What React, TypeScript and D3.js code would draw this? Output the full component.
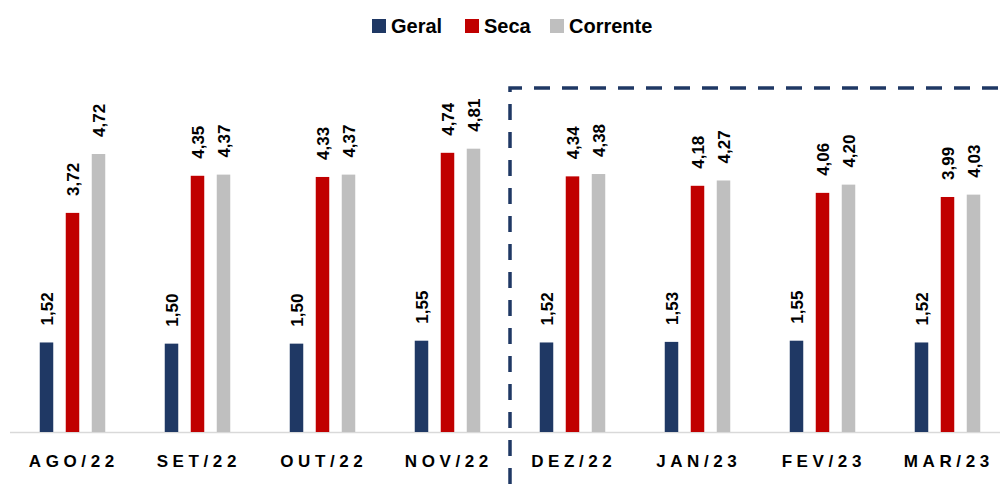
import React from "react";
import * as d3 from "d3";

const months = ["AGO/22", "SET/22", "OUT/22", "NOV/22", "DEZ/22", "JAN/23", "FEV/23", "MAR/23"];
const series = ["Geral", "Seca", "Corrente"];
const geral = [1.52, 1.5, 1.5, 1.55, 1.52, 1.53, 1.55, 1.52];
const seca = [3.72, 4.35, 4.33, 4.74, 4.34, 4.18, 4.06, 3.99];
const corrente = [4.72, 4.37, 4.37, 4.81, 4.38, 4.27, 4.2, 4.03];
const colors = ["#1f3864", "#c00000", "#bfbfbf"];

const W = 1000;
const H = 484;
const baseY = 432;
const font = "'Liberation Sans', Arial, sans-serif";

const App = () => {
  const values = [geral, seca, corrente];

  const xscale = d3.scaleBand().domain(months).range([10, 1010]);
  const inner = d3.scalePoint().domain(series).range([36.5, 88.5]);
  const yscale = d3.scaleLinear().domain([0, 5]).range([baseY, baseY - 5 * 58.9]);
  const barW = 13.5;

  const fmt = (v: number) => d3.format(".2f")(v).replace(".", ",");

  // legend placement
  const legend = [
    { sq: 372, tx: 391 },
    { sq: 465, tx: 484 },
    { sq: 550, tx: 569 },
  ];

  const sepX = xscale("DEZ/22")!;
  const spacing = 4.6;

  return (
    <svg
      width={W}
      height={H}
      viewBox={`0 0 ${W} ${H}`}
      style={{ position: "absolute", left: 0, top: 0, background: "#fff" }}
    >
      {/* legend */}
      {series.map((s, i) => (
        <g key={s}>
          <rect x={legend[i].sq} y={19} width={14} height={14} fill={colors[i]} />
          <text x={legend[i].tx} y={33} fontFamily={font} fontWeight="bold" fontSize={20} fill="#000">
            {s}
          </text>
        </g>
      ))}

      {/* axis line */}
      <line x1={10} x2={W} y1={baseY + 0.5} y2={baseY + 0.5} stroke="#d9d9d9" strokeWidth={1.5} />

      {/* bars */}
      {months.map((m, mi) => (
        <g key={m}>
          {series.map((s, si) => {
            const v = values[si][mi];
            const cx = xscale(m)! + inner(s)!;
            const top = yscale(v);
            return (
              <g key={s}>
                <rect x={cx - barW / 2} y={top} width={barW} height={baseY - top} fill={colors[si]} />
                <text
                  transform={`translate(${cx},${top - 17}) rotate(-90)`}
                  dy="0.36em"
                  fontFamily={font}
                  fontWeight="bold"
                  fontSize={17}
                  fill="#000"
                >
                  {fmt(v)}
                </text>
              </g>
            );
          })}
          <text
            x={xscale(m)! + xscale.bandwidth() / 2 + spacing / 2 - 1}
            y={467}
            textAnchor="middle"
            fontFamily={font}
            fontWeight="bold"
            fontSize={17}
            letterSpacing={spacing}
            fill="#000"
          >
            {m}
          </text>
        </g>
      ))}

      {/* dashed separator */}
      <path
        d={`M${sepX},${H} L${sepX},88 L${W},88`}
        fill="none"
        stroke="#1f3864"
        strokeWidth={3.5}
        strokeDasharray="16 12"
      />
    </svg>
  );
};

export default App;
